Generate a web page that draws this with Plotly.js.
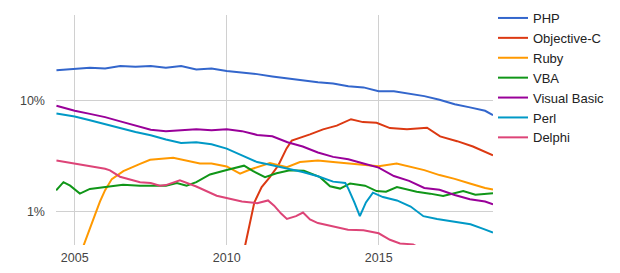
<!DOCTYPE html>
<html>
<head>
<meta charset="utf-8">
<script src="https://cdn.plot.ly/plotly-3.0.1.min.js"></script>
<style>html,body{margin:0;padding:0;background:#fff;}#chart{width:620px;height:273px;}</style>
</head>
<body>
<div id="chart"></div>
<script>
// Share of questions (%), log scale
var phpYears = [2004.4, 2005, 2005.5, 2006, 2006.5, 2007, 2007.5, 2008, 2008.5, 2009, 2009.5, 2010, 2010.5, 2011, 2011.5, 2012, 2012.5, 2013, 2013.5, 2014, 2014.5, 2015, 2015.5, 2016, 2016.5, 2017, 2017.5, 2018, 2018.5, 2018.76];
var phpValues = [18.9, 19.4, 19.9, 19.6, 20.6, 20.3, 20.6, 19.9, 20.6, 19.2, 19.6, 18.6, 18.1, 17.4, 16.6, 15.9, 15.3, 14.7, 14.3, 13.5, 13.2, 12.2, 12.2, 11.6, 11.0, 10.2, 9.3, 8.7, 8.1, 7.4];

var objcYears = [2010.60, 2010.77, 2010.91, 2011.15, 2011.42, 2011.70, 2011.97, 2012.14, 2012.41, 2012.74, 2013.17, 2013.62, 2014.09, 2014.48, 2014.93, 2015.37, 2015.93, 2016.59, 2017.02, 2017.58, 2018.10, 2018.42, 2018.76];
var objcValues = [0.48, 0.82, 1.2, 1.65, 2.03, 2.6, 3.7, 4.35, 4.6, 4.95, 5.5, 5.95, 6.8, 6.4, 6.3, 5.65, 5.5, 5.7, 4.75, 4.3, 3.85, 3.5, 3.2];

var rubyYears = [2005.27, 2005.5, 2005.67, 2005.83, 2006.0, 2006.22, 2006.6, 2007.15, 2007.48, 2008.24, 2008.79, 2009.12, 2009.5, 2010.0, 2010.44, 2010.77, 2011.42, 2011.98, 2012.41, 2013.0, 2013.5, 2014.06, 2014.5, 2015.0, 2015.59, 2016.03, 2016.5, 2017.0, 2017.5, 2018.0, 2018.5, 2018.76];
var rubyValues = [0.47, 0.68, 0.93, 1.22, 1.55, 1.95, 2.3, 2.68, 2.92, 3.05, 2.8, 2.7, 2.7, 2.54, 2.18, 2.38, 2.72, 2.5, 2.78, 2.88, 2.78, 2.7, 2.65, 2.55, 2.7, 2.54, 2.35, 2.12, 1.96, 1.78, 1.62, 1.57];

var vbaYears = [2004.39, 2004.63, 2004.85, 2005.17, 2005.5, 2006.03, 2006.59, 2007.15, 2007.5, 2008.0, 2008.36, 2008.68, 2009.0, 2009.45, 2010.0, 2010.57, 2010.87, 2011.26, 2011.64, 2012.08, 2012.54, 2013.07, 2013.40, 2013.73, 2014.06, 2014.55, 2014.93, 2015.24, 2015.60, 2016.25, 2016.69, 2017.12, 2017.78, 2018.18, 2018.76];
var vbaValues = [1.54, 1.83, 1.7, 1.44, 1.59, 1.65, 1.73, 1.7, 1.7, 1.7, 1.8, 1.7, 1.83, 2.15, 2.36, 2.58, 2.3, 2.03, 2.2, 2.34, 2.32, 2.03, 1.68, 1.6, 1.78, 1.7, 1.52, 1.5, 1.65, 1.5, 1.44, 1.37, 1.52, 1.41, 1.45];

var vbYears = [2004.4, 2005, 2005.5, 2006, 2006.5, 2007, 2007.5, 2008, 2008.5, 2009, 2009.5, 2010, 2010.5, 2011, 2011.5, 2012, 2012.5, 2013, 2013.5, 2014, 2014.5, 2015, 2015.5, 2016, 2016.5, 2017, 2017.5, 2018, 2018.5, 2018.76];
var vbValues = [9.0, 8.1, 7.6, 7.1, 6.5, 5.95, 5.45, 5.3, 5.4, 5.5, 5.4, 5.5, 5.3, 4.9, 4.76, 4.2, 3.85, 3.4, 3.1, 2.95, 2.7, 2.48, 2.08, 1.88, 1.62, 1.56, 1.4, 1.28, 1.22, 1.15];

var perlYears = [2004.4, 2005, 2005.5, 2006, 2006.5, 2007, 2007.5, 2008, 2008.5, 2009, 2009.5, 2010, 2010.5, 2011, 2011.5, 2012, 2012.5, 2013, 2013.5, 2013.9, 2014.0, 2014.2, 2014.38, 2014.58, 2014.81, 2015.14, 2015.6, 2016.05, 2016.47, 2016.92, 2017.58, 2018.02, 2018.44, 2018.76];
var perlValues = [7.65, 7.2, 6.65, 6.12, 5.6, 5.2, 4.87, 4.45, 4.15, 4.2, 4.03, 3.68, 3.2, 2.78, 2.6, 2.42, 2.26, 2.07, 1.85, 1.8, 1.6, 1.2, 0.9, 1.2, 1.47, 1.34, 1.25, 1.1, 0.9, 0.85, 0.8, 0.76, 0.69, 0.64];

var delphiYears = [2004.4, 2004.94, 2005.5, 2006.0, 2006.16, 2006.49, 2007.15, 2007.5, 2007.8, 2008.0, 2008.46, 2009.0, 2009.67, 2010.0, 2010.5, 2011.0, 2011.36, 2011.56, 2011.79, 2011.98, 2012.28, 2012.51, 2012.74, 2013.0, 2013.5, 2013.99, 2014.5, 2015.0, 2015.37, 2015.7, 2016.13, 2016.42];
var delphiValues = [2.88, 2.72, 2.54, 2.42, 2.34, 2.05, 1.83, 1.8, 1.7, 1.72, 1.9, 1.67, 1.38, 1.32, 1.22, 1.18, 1.25, 1.12, 0.95, 0.85, 0.9, 0.97, 0.84, 0.78, 0.73, 0.68, 0.67, 0.63, 0.55, 0.51, 0.5, 0.45];

var seriesNames = ["PHP", "Objective-C", "Ruby", "VBA", "Visual Basic", "Perl", "Delphi"];
var seriesColors = ["#3366cc", "#dc3912", "#ff9900", "#109618", "#990099", "#0099c6", "#dd4477"];
var xTickVals = [2005, 2010, 2015];
var xTickText = ["2005", "2010", "2015"];
var yTickVals = [1, 10];
var yTickText = ["1%", "10%"];

var xs = [phpYears, objcYears, rubyYears, vbaYears, vbYears, perlYears, delphiYears];
var ys = [phpValues, objcValues, rubyValues, vbaValues, vbValues, perlValues, delphiValues];

var traces = seriesNames.map(function (n, i) {
  return {
    x: xs[i], y: ys[i], name: n, type: "scatter", mode: "lines",
    line: {color: seriesColors[i], width: 2}
  };
});

var layout = {
  width: 620, height: 273,
  margin: {l: 56, r: 127, t: 15, b: 28, pad: 0, autoexpand: false},
  paper_bgcolor: "#fff", plot_bgcolor: "#fff",
  font: {family: "Liberation Sans, Arial, sans-serif", size: 12.5, color: "#444"},
  showlegend: true,
  legend: {
    x: 1.0, xanchor: "left", yref: "container", y: 0.989, yanchor: "top",
    maxheight: 260,
    font: {size: 13, color: "#222"}, bgcolor: "rgba(0,0,0,0)", itemwidth: 30
  },
  xaxis: {
    range: [2004.385, 2018.76], tickvals: xTickVals, ticktext: xTickText,
    showgrid: true, gridcolor: "#d0d0d0", gridwidth: 1,
    zeroline: false, showline: false, ticks: "", fixedrange: true,
    ticklabelstandoff: 3
  },
  yaxis: {
    type: "log", range: [-0.3067, 1.776], tickvals: yTickVals, ticktext: yTickText,
    showgrid: true, gridcolor: "#d0d0d0", gridwidth: 1,
    zeroline: false, showline: false, ticks: "", fixedrange: true,
    ticklabelstandoff: 10
  }
};

Plotly.newPlot("chart", traces, layout, {staticPlot: true, displayModeBar: false});
</script>
</body>
</html>
